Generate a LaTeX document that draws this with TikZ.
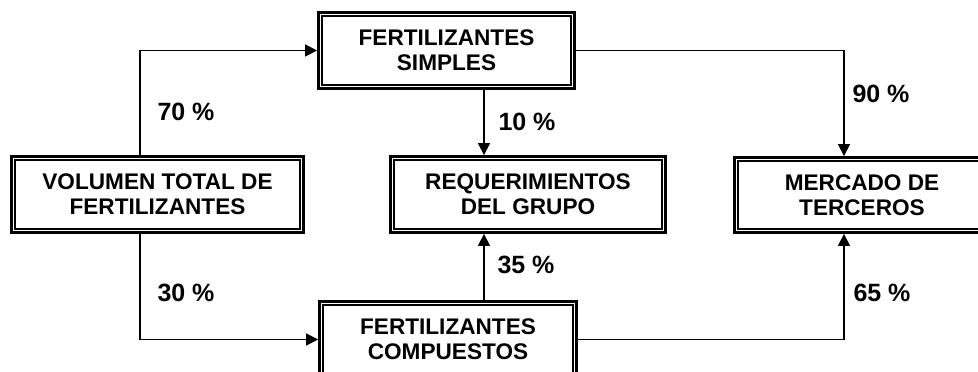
\documentclass[tikz,border=0pt]{standalone}
\usepackage{fontspec}
\setmainfont{Liberation Sans}
\usetikzlibrary{arrows.meta,calc}
\tikzset{
  dbox/.style={draw, line width=2.8pt, rectangle, align=center, inner sep=0pt,
    font=\bfseries\fontsize{22.6}{25}\selectfont, minimum height=76pt,
    execute at begin node={\rule{0pt}{22pt}}},
  innerline/.style={line width=1.8pt},
  conn/.style={line width=1.3pt},
  arr/.style={conn, -{Triangle[length=12pt,width=12pt]}},
  lbl/.style={font=\bfseries\fontsize{25}{28}\selectfont, inner sep=0pt}
}
\begin{document}
\begin{tikzpicture}[x=1pt,y=-1pt]
\useasboundingbox (0,0) rectangle (978,372);
\clip (0,0) rectangle (978,372);
\node[dbox, minimum width=256pt] (S) at (446.5,50.5) {FERTILIZANTES\\SIMPLES};
\node[dbox, minimum width=292pt] (V) at (157.5,194.5) {VOLUMEN TOTAL DE\\FERTILIZANTES};
\node[dbox, minimum width=275pt] (R) at (528,194.5) {REQUERIMIENTOS\\DEL GRUPO};
\node[dbox, minimum width=255pt, minimum height=75pt] (M) at (862,195) {MERCADO DE\\TERCEROS};
\node[dbox, minimum width=257pt] (C) at (448,339.5) {FERTILIZANTES\\COMPUESTOS};
\foreach \n in {S,V,R,M,C}
  \draw[innerline] ([xshift=5pt,yshift=-5pt]\n.north west) rectangle ([xshift=-5pt,yshift=5pt]\n.south east);
\coordinate (lx) at (140,0);
\coordinate (mx) at (484,0);
\coordinate (rx) at (844,0);
\draw[arr] (V.north -| lx) |- (S.west);
\draw[arr] (V.south -| lx) |- (C.west);
\draw[arr] (S.south -| mx) -- (R.north -| mx);
\draw[arr] (C.north -| mx) -- (R.south -| mx);
\draw[arr] (S.east) -| (M.north -| rx);
\draw[arr] (C.east) -| (M.south -| rx);
\node[lbl] (l70) at (186,112) {70 \%};
\node[lbl] (l30) at (186,293) {30 \%};
\node[lbl] (l10) at (527,122) {10 \%};
\node[lbl] (l35) at (526,265) {35 \%};
\node[lbl] (l90) at (881,94) {90 \%};
\node[lbl] (l65) at (882,293) {65 \%};
\end{tikzpicture}
\end{document}
